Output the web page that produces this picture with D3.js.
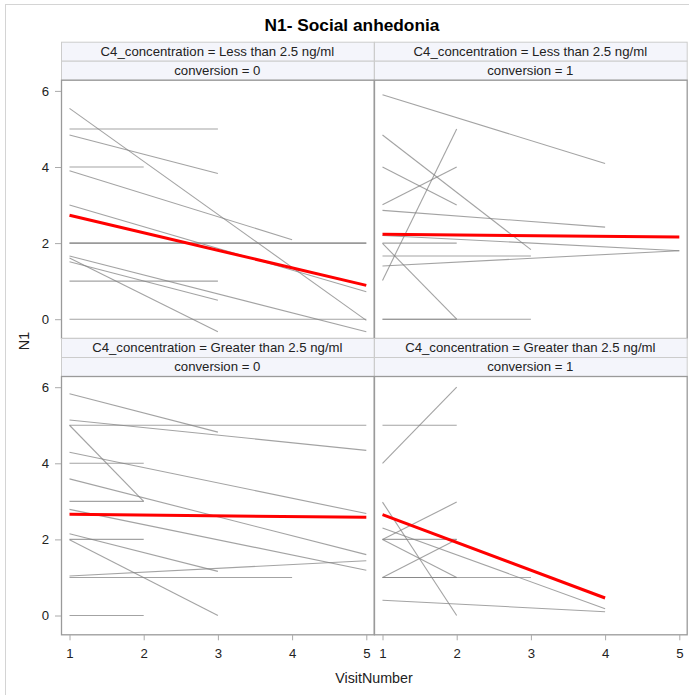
<!DOCTYPE html>
<html>
<head>
<meta charset="utf-8">
<script src="https://cdn.jsdelivr.net/npm/d3@7"></script>
<style>
  html, body { margin: 0; padding: 0; background: #fff; }
  svg { display: block; font-family: "Liberation Sans", Arial, sans-serif; }
</style>
</head>
<body>
<svg id="chart" width="689" height="695"></svg>
<script>
// Panel facets
const concentrationLevels = ["Less than 2.5 ng/ml", "Greater than 2.5 ng/ml"];
const conversionLevels = [0, 1];
const visitTicks = [1, 2, 3, 4, 5];
const n1Ticks = [0, 2, 4, 6];

// Individual trajectories: each is a list of [VisitNumber, N1]
const lessConv0 = [
  [[1, 5.54], [5, -0.03]],
  [[1, 5.0], [3, 5.0]],
  [[1, 4.84], [3, 3.83]],
  [[1, 4.0], [2, 4.0]],
  [[1, 3.9], [4, 2.09]],
  [[1, 3.0], [5, 0.72]],
  [[1, 2.0], [5, 2.0]],
  [[1, 2.0], [5, 2.0]],
  [[1, 1.61], [3, -0.33]],
  [[1, 1.51], [3, 0.5]],
  [[1, 1.66], [5, -0.33]],
  [[1, 1.0], [3, 1.0]],
  [[1, 0.0], [5, 0.0]]
];
const lessConv1 = [
  [[1, 5.9], [4, 4.09]],
  [[1, 4.84], [3, 1.83]],
  [[1, 4.0], [2, 3.0]],
  [[1, 3.01], [2, 4.0]],
  [[1, 1.02], [2, 5.0]],
  [[1, 2.86], [4, 2.42]],
  [[1, 2.2], [5, 1.8]],
  [[1, 1.4], [5, 1.8]],
  [[1, 2.0], [2, 2.0]],
  [[1, 1.99], [2, 0.0]],
  [[1, 1.66], [3, 1.66]],
  [[1, 0.0], [3, 0.0]],
  [[1, 0.0], [2, 0.0]]
];
const greaterConv0 = [
  [[1, 5.83], [3, 4.82]],
  [[1, 5.14], [5, 4.34]],
  [[1, 5.0], [5, 5.0]],
  [[1, 5.0], [2, 3.0]],
  [[1, 4.29], [5, 2.68]],
  [[1, 4.0], [2, 4.0]],
  [[1, 3.59], [5, 1.6]],
  [[1, 3.0], [2, 3.0]],
  [[1, 2.79], [5, 1.19]],
  [[1, 2.0], [2, 2.0]],
  [[1, 2.15], [3, 1.16]],
  [[1, 1.99], [3, 0.0]],
  [[1, 1.04], [5, 1.44]],
  [[1, 1.0], [4, 1.0]],
  [[1, 0.0], [2, 0.0]]
];
const greaterConv1 = [
  [[1, 4.0], [2, 6.0]],
  [[1, 5.0], [2, 5.0]],
  [[1, 2.98], [2, 0.0]],
  [[1, 2.0], [2, 2.98]],
  [[1, 2.3], [4, 0.18]],
  [[1, 2.0], [2, 1.0]],
  [[1, 1.0], [2, 2.0]],
  [[1, 2.0], [2, 2.0]],
  [[1, 1.0], [3, 1.0]],
  [[1, 1.0], [2, 1.0]],
  [[1, 0.4], [4, 0.1]]
];

// Mean trend per panel: [[visitStart, N1], [visitEnd, N1]]
const meanTrends = [
  [[1, 2.73], [5, 0.89]],
  [[1, 2.23], [5, 2.16]],
  [[1, 2.66], [5, 2.58]],
  [[1, 2.65], [4, 0.46]]
];
const trajectories = [lessConv0, lessConv1, greaterConv0, greaterConv1];

const svg = d3.select("#chart");

// Outer graph frame
svg.append("rect")
  .attr("x", 5.5).attr("y", 4.5)
  .attr("width", 720).attr("height", 720)
  .attr("fill", "none").attr("stroke", "#d4d4d4");

// Title
svg.append("text")
  .attr("x", 352).attr("y", 31)
  .attr("text-anchor", "middle")
  .attr("font-weight", "bold")
  .attr("font-size", 17.3)
  .text("N1- Social anhedonia");

// Layout
const colX = [61, 374];
const colW = 312.7;
const rowTop = [41.7, 338];
const headerH = 19;
const plotH = 258.3;

const line = d3.line();

concentrationLevels.forEach((conc, r) => {
  conversionLevels.forEach((conv, c) => {
    const idx = r * 2 + c;
    const x0 = colX[c];
    const hTop = rowTop[r];
    const pTop = hTop + headerH * 2;

    const x = d3.scaleLinear().domain([1, 5]).range([x0 + 8.5, x0 + 305.3]);
    const y = d3.scaleLinear().domain([0, 6]).range([pTop + 239.5, pTop + 11.2]);

    // Header cells
    const hdr = svg.append("g");
    [`C4_concentration = ${conc}`, `conversion = ${conv}`].forEach((t, k) => {
      hdr.append("rect")
        .attr("x", x0 + 0.5).attr("y", hTop + k * headerH + 0.5)
        .attr("width", colW).attr("height", headerH)
        .attr("fill", "#f4f5fb").attr("stroke", "#cccccc");
      hdr.append("text")
        .attr("x", x0 + colW / 2).attr("y", hTop + k * headerH + headerH / 2)
        .attr("dy", "0.36em")
        .attr("text-anchor", "middle")
        .attr("font-size", 13.2)
        .attr("fill", "#222")
        .text(t);
    });

    // Plot area
    const g = svg.append("g");
    const clipId = `clip${idx}`;
    g.append("clipPath").attr("id", clipId)
      .append("rect").attr("x", x0).attr("y", pTop).attr("width", colW).attr("height", plotH);

    const marks = g.append("g").attr("clip-path", `url(#${clipId})`);
    marks.selectAll("path.subj")
      .data(trajectories[idx])
      .join("path")
      .attr("class", "subj")
      .attr("d", d => line(d.map(p => [x(p[0]), y(p[1])])))
      .attr("fill", "none")
      .attr("stroke", "#808080")
      .attr("stroke-opacity", 0.72)
      .attr("stroke-width", 1.1);

    marks.append("path")
      .attr("d", line(meanTrends[idx].map(p => [x(p[0]), y(p[1])])))
      .attr("fill", "none")
      .attr("stroke", "#ff0000")
      .attr("stroke-width", 3);

    g.append("rect")
      .attr("x", x0 + 0.5).attr("y", pTop + 0.5)
      .attr("width", colW).attr("height", plotH)
      .attr("fill", "none").attr("stroke", "#9a9a9a").attr("stroke-width", 1.3);

    // Y axis on the left column
    if (c === 0) {
      const ya = svg.append("g")
        .attr("transform", `translate(${x0},0)`)
        .call(d3.axisLeft(y).tickValues(n1Ticks).tickSize(6).tickPadding(6).tickFormat(d3.format("d")));
      ya.select(".domain").remove();
      ya.selectAll(".tick line").attr("stroke", "#aaaaaa");
      ya.selectAll(".tick text").attr("font-size", 13.2).attr("fill", "#222")
        .attr("font-family", "Liberation Sans, Arial, sans-serif");
    }
    // X axis on the bottom row
    if (r === 1) {
      const xa = svg.append("g")
        .attr("transform", `translate(0,${pTop + plotH})`)
        .call(d3.axisBottom(x).tickValues(visitTicks).tickSize(6).tickPadding(8).tickFormat(d3.format("d")));
      xa.select(".domain").remove();
      xa.selectAll(".tick line").attr("stroke", "#aaaaaa");
      xa.selectAll(".tick text").attr("font-size", 13.2).attr("fill", "#222")
        .attr("font-family", "Liberation Sans, Arial, sans-serif");
    }
  });
});

// Axis labels
svg.append("text")
  .attr("x", 374).attr("y", 683)
  .attr("text-anchor", "middle")
  .attr("font-size", 14.3)
  .attr("fill", "#222")
  .text("VisitNumber");

svg.append("text")
  .attr("transform", "translate(29,341) rotate(-90)")
  .attr("text-anchor", "middle")
  .attr("font-size", 14.3)
  .attr("fill", "#222")
  .text("N1");
</script>
</body>
</html>
